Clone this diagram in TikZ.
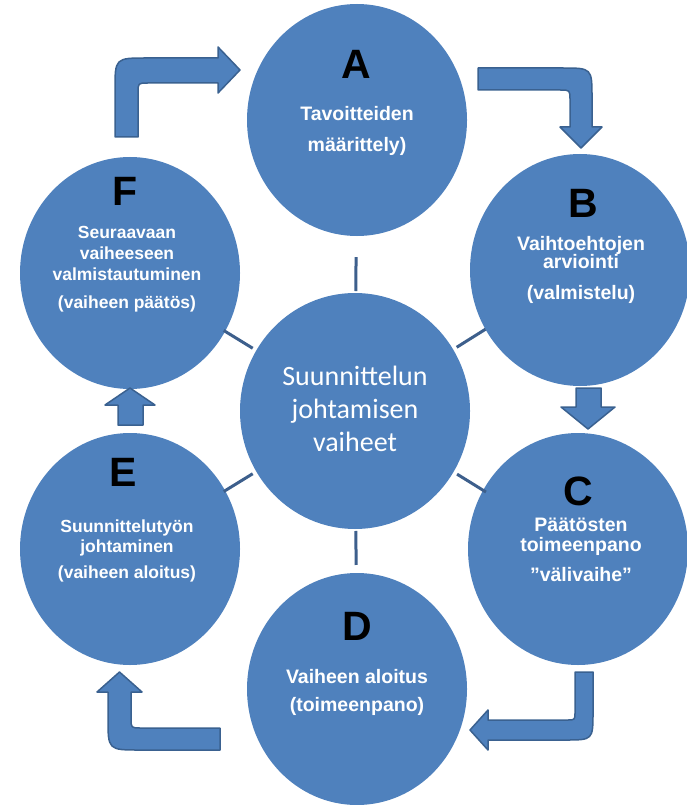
\documentclass[tikz,border=0pt]{standalone}
\usepackage{fontspec}
\setmainfont{Liberation Sans}
\newfontfamily\calibri{Carlito}
\usetikzlibrary{calc,shapes.geometric}
\definecolor{disc}{HTML}{4F81BD}
\definecolor{rim}{HTML}{3A6190}
\definecolor{spokecol}{HTML}{3D5F8C}
\begin{document}
\begin{tikzpicture}[x=1pt,y=-1pt,
  phase/.style={ellipse, fill=disc, draw=none, minimum width=220pt, minimum height=232pt, inner sep=0pt},
  hubdisc/.style={ellipse, fill=disc, draw=none, minimum width=230pt, minimum height=236pt, inner sep=0pt},
  letter/.style={font=\fontsize{41}{41}\selectfont\bfseries, text=black, anchor=base, inner sep=0pt},
  caption/.style={font=\fontsize{19.5}{20}\selectfont\bfseries, text=white, anchor=base, inner sep=0pt},
  smallcap/.style={font=\fontsize{17.5}{18}\selectfont\bfseries, text=white, anchor=base, inner sep=0pt},
  hubtext/.style={font=\calibri\fontsize{28}{33}\selectfont, text=white, anchor=base, inner sep=0pt},
  bendarrow/.style={fill=disc, draw=rim, line width=1.5pt, line join=round},
  spoke/.style={draw=spokecol, line width=3pt}]
\useasboundingbox (0,0) rectangle (687,805);
\fill[white] (0,0) rectangle (687,805);

% discs
\node[hubdisc] (hub) at (355,411) {};
\node[phase] (A) at (357,120) {};
\node[phase] (B) at (580,270) {};
\node[phase] (C) at (578,549) {};
\node[phase] (D) at (357,689) {};
\node[phase] (E) at (130,549) {};
\node[phase] (F) at (130,273) {};

% spokes between the hub and the phases
\foreach \n in {A,B,C,D,E,F}
  \draw[spoke] ($(hub.center)!120pt!(\n.center)$) -- ($(hub.center)!154pt!(\n.center)$);

% hub text
\node[hubtext] (h1) at (355,385) {Suunnittelun};
\node[hubtext] (h2) at (355,418) {johtamisen};
\node[hubtext] (h3) at (355,451) {vaiheet};

% phase A
\node[letter] (la) at (356,79) {A};
\node[caption] (a1) at (357,121) {Tavoitteiden};
\node[caption] (a2) at (357,152) {määrittely)};
% phase B
\node[letter] (lb) at (583,217) {B};
\node[caption] (b1) at (581,250) {Vaihtoehtojen};
\node[caption] (b2) at (581,268) {arviointi};
\node[caption] (b3) at (581,299) {(valmistelu)};
% phase C
\node[letter] (lc) at (578,505) {C};
\node[caption] (c1) at (581,531) {Päätösten};
\node[caption] (c2) at (581,551) {toimeenpano};
\node[caption] (c3) at (581,581) {”välivaihe”};
% phase D
\node[letter] (ld) at (357,640) {D};
\node[caption] (d1) at (357,683) {Vaiheen aloitus};
\node[caption] (d2) at (357,711) {(toimeenpano)};
% phase E
\node[letter] (le) at (123,486) {E};
\node[smallcap] (e1) at (127,532) {Suunnittelutyön};
\node[smallcap] (e2) at (127,552) {johtaminen};
\node[smallcap] (e3) at (127,578) {(vaiheen aloitus)};
% phase F
\node[letter] (lf) at (125,205) {F};
\node[smallcap] (f1) at (127,238) {Seuraavaan};
\node[smallcap] (f2) at (127,259) {vaiheeseen};
\node[smallcap] (f3) at (127,280) {valmistautuminen};
\node[smallcap] (f4) at (127,308) {(vaiheen päätös)};

% F -> A : up, then right
\draw[bendarrow] (115,137) -- (115,90) .. controls (115,58) .. (147,58) -- (218,58) -- (218,47)
  -- (240,70) -- (218,93) -- (218,83) -- (148,83) .. controls (138,83) .. (138,93) -- (138,137) -- cycle;
% A -> B : right, then down
\draw[bendarrow] (478,68) -- (562,68) .. controls (592,68) .. (592,98) -- (592,127) -- (602,127)
  -- (581,148) -- (560,127) -- (570,127) -- (570,100) .. controls (570,90) .. (560,90) -- (478,90) -- cycle;
% B -> C : straight down
\draw[bendarrow] (576,388) -- (601,388) -- (601,407) -- (615,407) -- (588,429) -- (561,407) -- (576,407) -- cycle;
% C -> D : down, then left
\draw[bendarrow] (575,672) -- (593,672) -- (593,712) .. controls (593,740) .. (565,740) -- (488,740)
  -- (488,750) -- (470,730) -- (488,710) -- (488,720) -- (567,720) .. controls (575,720) .. (575,712) -- cycle;
% D -> E : left, then up
\draw[bendarrow] (220,728) -- (220,750) -- (140,750) .. controls (108,750) .. (108,718) -- (108,692)
  -- (97,692) -- (119.5,672) -- (142,692) -- (131,692) -- (131,718) .. controls (131,728) .. (141,728) -- cycle;
% E -> F : straight up
\draw[bendarrow] (118,425) -- (118,405) -- (105,405) -- (130,388) -- (155,405) -- (143,405) -- (143,425) -- cycle;
\end{tikzpicture}
\end{document}
